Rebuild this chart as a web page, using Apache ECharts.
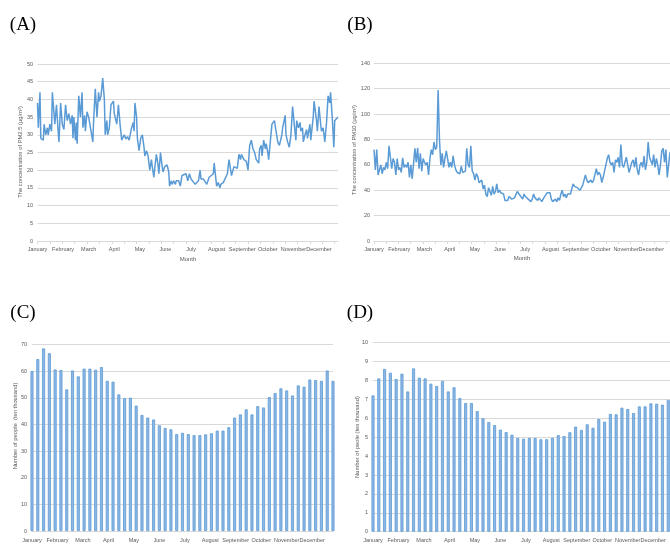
<!DOCTYPE html>
<html>
<head>
<meta charset="utf-8">
<script src="https://cdn.jsdelivr.net/npm/echarts@6/dist/echarts.min.js"></script>
<style>
html,body{margin:0;padding:0;background:#fff;}
#chart{width:670px;height:546px;}
</style>
</head>
<body>
<div id="chart"></div>
<script>
const months = ['January','February','March','April','May','June','July','August','September','October','November','December'];

// (A) daily PM2.5 (day of year, value)
const pm25Days = [0,1,3,4,7,8,10,12,13,15,17,18,19,21,23,25,26,28,30,32,34,36,38,40,42,43,44,46,47,48,50,52,54,55,57,58,60,62,64,67,68,70,72,74,75,77,79,81,82,84,85,87,89,92,93,96,98,100,102,105,107,109,111,114,116,117,118,120,121,123,124,125,127,129,130,132,134,136,138,139,141,142,144,146,147,149,151,152,154,156,157,159,160,162,163,165,167,168,170,171,173,175,177,180,182,184,186,188,191,192,195,197,198,201,203,205,208,210,213,214,216,217,219,221,222,225,227,230,232,234,235,238,239,242,244,246,247,250,253,255,257,259,261,263,265,268,269,271,272,274,276,277,279,280,282,284,287,289,291,293,296,297,300,301,303,305,307,309,311,313,314,316,318,319,321,322,324,326,327,330,331,334,335,338,339,341,343,344,346,348,350,352,354,355,357,359,360,362,364];
const pm25 = [39,32,42,29,28.5,33,30,32,30,33,31,42,42.5,33,38.5,31,28,39,33,31.5,38.5,34,36,33,35.5,29,35,28.5,33.5,27.5,41,35,42,32,35.5,31,36.5,35,34.5,28,34,43,35,42,39.5,41,46,40,30,34,30,32,38.5,39.5,36,33,38.5,33,28.5,30,28.8,29.5,28.5,32,33.5,31,39,35,29,25.5,25,29,30,26.5,24,25.5,24,20,23,21,18,20.5,24.5,21.5,19,25,21,19.5,21,20.5,21.5,19.5,15.5,17,16,17,16,17,16.5,17,15.5,18.5,18.5,19,17,19,17.5,17,16,15.5,17,20,17.5,17.5,17,16,18,18.5,19,22,21.5,15.5,16.5,15,16,16.5,17,19,23,20,18.5,21,21.5,20.5,24.5,23,24.5,23,22.5,20,27,28.5,26,25,23,22,26,27,24,28.5,26,27.5,25,23,28,33,34,31,28,27,30,32,35.5,30,28,26.5,30,38,33,28.5,34,32,33.5,31,32,28,30,31.5,29,33,28.5,35,39.5,34,31,38,33,31,32,28,33,41,39,42,35,26.5,34,33.5,35];

// (B) PM10, evenly spaced through the year
const pm10 = [72,56,72,52,51,60,53,58,56,62,57,75,76,57,65,62,52,65,56,58,54,65.5,58,60,58,62,50,60,49,61,73,62,73.5,57,69,55,65,62,60,62,52,65,72,68,78,72,74,119,80,60,69,58,65,71,72,58,62,58,67,60,56,54,55,53,59,54,53,55,73,60,58,75,55,53,48,53,51,46,47,48,41,44,37,35,42,41,36,43,37,39,45,38,40,38,38,37,32,33,32,35,36,33,34,34,33,39,38,36,37,33,37,35,34,33,34,31,33,37,34,35,32,34,33,31,33,35,36,38,39,38,33,31,30,33,31,34,32,37,40,35,37,34,37,38,37,41,45,43,42,42,41,40,41,44,48,52,48,46,47,48,46,48,47,57,52,54,52,46,50,55,60,65,68,62,60,62,54,64,62,66,58,76,60,58,62,66,60,54,58,62,64,58,66,56,52,60,62,58,67,56,62,78,66,65,60,68,58,65,60,52,60,71,73,62,72,50,60,70];

// (C) weekly number of people (ten thousand)
const peopleC = [60.1,64.6,68.6,66.8,60.7,60.5,53.2,60.3,58.1,61.0,61.0,60.6,61.6,56.4,56.1,51.3,49.9,50.1,47.1,43.6,42.6,41.9,39.7,38.7,38.2,36.4,36.9,36.4,36.0,36.0,36.3,36.7,37.7,37.7,39.0,42.6,43.8,45.7,43.8,46.9,46.4,50.3,51.8,53.6,52.8,50.9,54.7,54.2,56.9,56.7,56.4,60.3,56.4];

// (D) weekly number of people (ten thousand)
const peopleD = [7.21,8.11,8.61,8.41,8.08,8.36,7.42,8.64,8.15,8.11,7.83,7.71,7.97,7.42,7.64,7.07,6.81,6.81,6.38,6.0,5.8,5.64,5.4,5.27,5.13,4.96,4.92,4.96,4.96,4.89,4.89,4.96,5.11,5.06,5.26,5.56,5.38,5.68,5.5,5.96,5.82,6.23,6.21,6.56,6.49,6.28,6.63,6.63,6.79,6.77,6.72,6.97];

const labelColor = '#595959';
const gridColor = '#d9d9d9';
const lineColor = '#5b9bd5';
const fontFam = '"Liberation Sans", Arial, sans-serif';

const dayTicks = []; for (let d = 0; d <= 360; d += 15) dayTicks.push(d);
const dayLabelPos = months.map((m, i) => i * 31);
const weekLabelPos = months.map((m, i) => i * 4.4);

function monthFmt(pos) {
  return function (v) {
    let best = 0, bd = 1e9;
    pos.forEach((p, i) => { const d = Math.abs(p - v); if (d < bd) { bd = d; best = i; } });
    return bd < 0.01 ? months[best] : '';
  };
}

function xDays(gi) {
  return {
    gridIndex: gi, type: 'value', min: 0, max: 364,
    axisLine: { show: true, lineStyle: { color: gridColor } },
    axisTick: { show: true, customValues: dayTicks, length: 3, lineStyle: { color: gridColor } },
    axisLabel: { customValues: dayLabelPos, formatter: monthFmt(dayLabelPos), fontSize: 5.5, color: labelColor, fontFamily: fontFam, margin: 5, hideOverlap: false },
    splitLine: { show: false }
  };
}
function xWeeks(gi, max) {
  return {
    gridIndex: gi, type: 'value', min: 0, max: max,
    axisLine: { show: true, lineStyle: { color: gridColor } },
    axisTick: { show: false },
    axisLabel: { customValues: weekLabelPos, formatter: monthFmt(weekLabelPos), fontSize: 5.5, color: labelColor, fontFamily: fontFam, margin: 6, hideOverlap: false },
    splitLine: { show: false }
  };
}
function yAx(gi, max, interval, margin) {
  return {
    gridIndex: gi, type: 'value', min: 0, max: max, interval: interval,
    axisLine: { show: false }, axisTick: { show: false },
    axisLabel: { fontSize: 5.5, color: labelColor, fontFamily: fontFam, margin: margin },
    splitLine: { show: true, lineStyle: { color: gridColor, width: 1 } }
  };
}

function txt(x, y, text, size, rot, fam, color) {
  return {
    type: 'text', x: x, y: y, rotation: rot || 0,
    style: { text: text, font: size + 'px ' + (fam || fontFam), fill: color || labelColor, align: 'center', verticalAlign: 'middle' }
  };
}

const serif = '"Liberation Serif", "Times New Roman", serif';
const barStyle = { color: '#8fb7e4', borderColor: '#5b9bd5', borderWidth: 0.8 };

const option = {
  animation: false,
  backgroundColor: '#fff',
  grid: [
    { left: 37.5, top: 64, width: 300.5, height: 177 },
    { left: 374, top: 63.3, width: 296, height: 177.7 },
    { left: 32, top: 344.7, width: 301, height: 186.3 },
    { left: 373, top: 342.7, width: 297, height: 189 }
  ],
  xAxis: [xDays(0), xDays(1), xWeeks(2, 52), xWeeks(3, 51.3)],
  yAxis: [yAx(0, 50, 5, 4.5), yAx(1, 140, 20, 4), yAx(2, 70, 10, 5), yAx(3, 10, 1, 5)],
  series: [
    { type: 'line', xAxisIndex: 0, yAxisIndex: 0, showSymbol: false, lineStyle: { color: lineColor, width: 1.5 },
      data: pm25Days.map((d, i) => [d, pm25[i]]) },
    { type: 'line', xAxisIndex: 1, yAxisIndex: 1, showSymbol: false, lineStyle: { color: lineColor, width: 1.5 },
      data: pm10.map((v, i) => [i * 364 / (pm10.length - 1), v]) },
    { type: 'bar', xAxisIndex: 2, yAxisIndex: 2, barWidth: 3, itemStyle: barStyle,
      data: peopleC.map((v, i) => [i, v]) },
    { type: 'bar', xAxisIndex: 3, yAxisIndex: 3, barWidth: 3, itemStyle: barStyle,
      data: peopleD.map((v, i) => [i, v]) }
  ],
  graphic: [
    txt(23, 25, '(A)', 19, 0, serif, '#000'),
    txt(360, 25, '(B)', 19, 0, serif, '#000'),
    txt(23, 313, '(C)', 19, 0, serif, '#000'),
    txt(360, 313, '(D)', 19, 0, serif, '#000'),
    txt(20, 152, 'The concentration of PM2.5 (μg/m³)', 5.8, Math.PI / 2),
    txt(354, 150, 'The concentration of PM10 (μg/m³)', 5.8, Math.PI / 2),
    txt(15, 426, 'Number of people  (ten thousand)', 5.8, Math.PI / 2),
    txt(357, 437, 'Number of peole (ten thousand)', 5.8, Math.PI / 2),
    txt(188, 259, 'Month', 6, 0),
    txt(522, 258, 'Month', 6, 0)
  ]
};

const chart = echarts.init(document.getElementById('chart'), null, { renderer: 'canvas' });
chart.setOption(option);
</script>
</body>
</html>
